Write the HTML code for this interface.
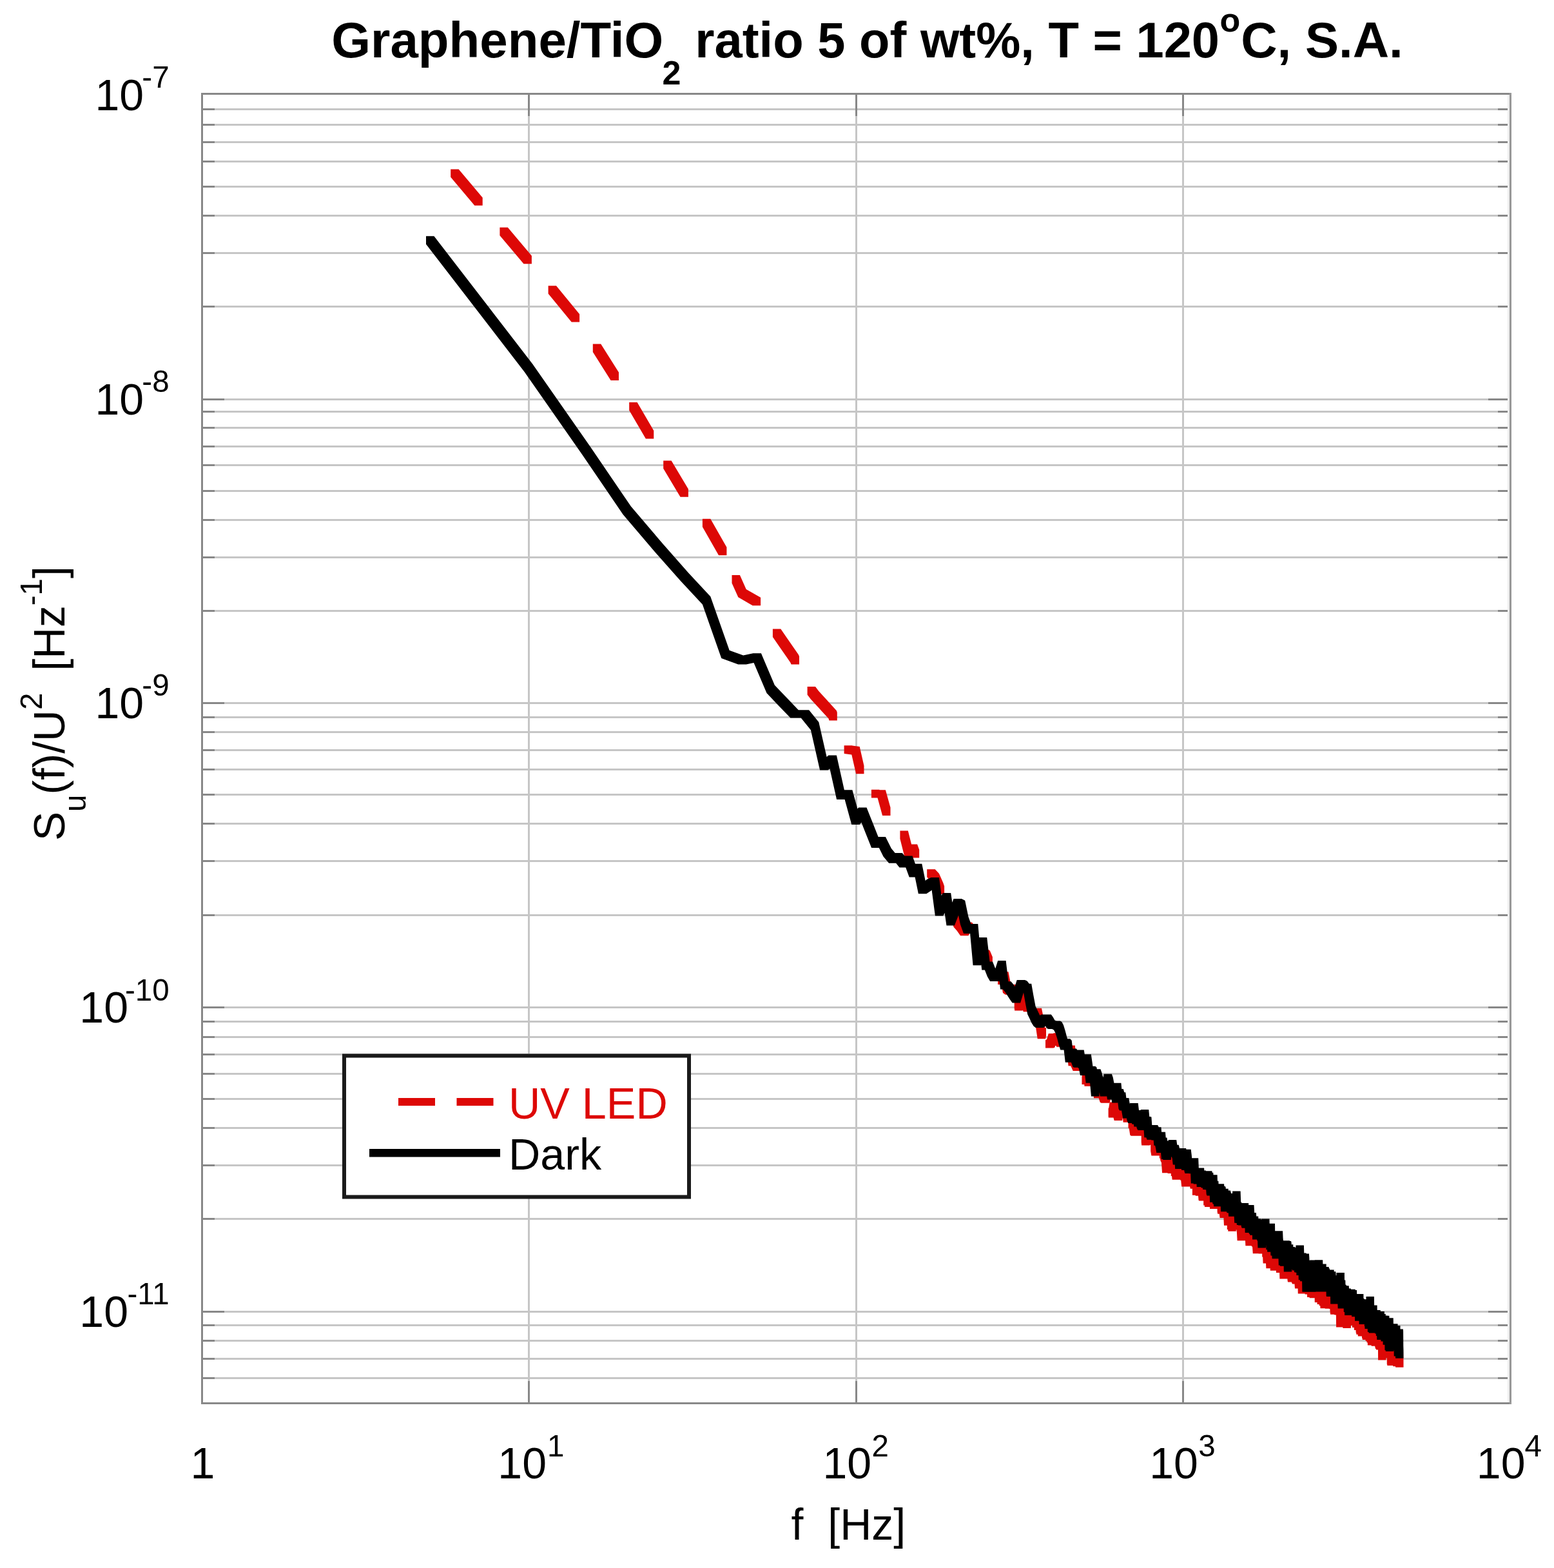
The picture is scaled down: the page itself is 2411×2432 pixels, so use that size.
<!DOCTYPE html>
<html lang="en"><head><meta charset="utf-8"><title>Graphene/TiO2 noise spectrum</title>
<style>html,body{margin:0;padding:0;background:#fff}svg{display:block}</style></head>
<body>
<svg width="2411" height="2432" viewBox="0 0 2411 2432">
<rect width="2411" height="2432" fill="#fff"/>
<g shape-rendering="crispEdges">
<rect x="315" y="168" width="2027" height="3" fill="#c6c6c6"/>
<rect x="315" y="192" width="2027" height="3" fill="#c6c6c6"/>
<rect x="315" y="219" width="2027" height="3" fill="#c6c6c6"/>
<rect x="315" y="249" width="2027" height="3" fill="#c6c6c6"/>
<rect x="315" y="288" width="2027" height="3" fill="#c6c6c6"/>
<rect x="315" y="333" width="2027" height="3" fill="#c6c6c6"/>
<rect x="315" y="391" width="2027" height="3" fill="#c6c6c6"/>
<rect x="315" y="474" width="2027" height="3" fill="#c6c6c6"/>
<rect x="315" y="618" width="2027" height="3" fill="#c6c6c6"/>
<rect x="315" y="637" width="2027" height="3" fill="#c6c6c6"/>
<rect x="315" y="662" width="2027" height="3" fill="#c6c6c6"/>
<rect x="315" y="691" width="2027" height="3" fill="#c6c6c6"/>
<rect x="315" y="720" width="2027" height="3" fill="#c6c6c6"/>
<rect x="315" y="760" width="2027" height="3" fill="#c6c6c6"/>
<rect x="315" y="805" width="2027" height="3" fill="#c6c6c6"/>
<rect x="315" y="863" width="2027" height="3" fill="#c6c6c6"/>
<rect x="315" y="946" width="2027" height="3" fill="#c6c6c6"/>
<rect x="315" y="1089" width="2027" height="3" fill="#c6c6c6"/>
<rect x="315" y="1111" width="2027" height="3" fill="#c6c6c6"/>
<rect x="315" y="1134" width="2027" height="3" fill="#c6c6c6"/>
<rect x="315" y="1162" width="2027" height="3" fill="#c6c6c6"/>
<rect x="315" y="1192" width="2027" height="3" fill="#c6c6c6"/>
<rect x="315" y="1231" width="2027" height="3" fill="#c6c6c6"/>
<rect x="315" y="1276" width="2027" height="3" fill="#c6c6c6"/>
<rect x="315" y="1334" width="2027" height="3" fill="#c6c6c6"/>
<rect x="315" y="1418" width="2027" height="3" fill="#c6c6c6"/>
<rect x="315" y="1561" width="2027" height="3" fill="#c6c6c6"/>
<rect x="315" y="1583" width="2027" height="3" fill="#c6c6c6"/>
<rect x="315" y="1607" width="2027" height="3" fill="#c6c6c6"/>
<rect x="315" y="1634" width="2027" height="3" fill="#c6c6c6"/>
<rect x="315" y="1664" width="2027" height="3" fill="#c6c6c6"/>
<rect x="315" y="1703" width="2027" height="3" fill="#c6c6c6"/>
<rect x="315" y="1748" width="2027" height="3" fill="#c6c6c6"/>
<rect x="315" y="1806" width="2027" height="3" fill="#c6c6c6"/>
<rect x="315" y="1889" width="2027" height="3" fill="#c6c6c6"/>
<rect x="315" y="2033" width="2027" height="3" fill="#c6c6c6"/>
<rect x="315" y="2054" width="2027" height="3" fill="#c6c6c6"/>
<rect x="315" y="2078" width="2027" height="3" fill="#c6c6c6"/>
<rect x="315" y="2106" width="2027" height="3" fill="#c6c6c6"/>
<rect x="315" y="2136" width="2027" height="3" fill="#c6c6c6"/>
<rect x="819" y="147" width="3" height="2028" fill="#c6c6c6"/>
<rect x="1327" y="147" width="3" height="2028" fill="#c6c6c6"/>
<rect x="1834" y="147" width="3" height="2028" fill="#c6c6c6"/>
<rect x="312" y="168" width="21" height="3" fill="#888888"/>
<rect x="2324" y="168" width="18" height="3" fill="#888888"/>
<rect x="312" y="192" width="21" height="3" fill="#888888"/>
<rect x="2324" y="192" width="18" height="3" fill="#888888"/>
<rect x="312" y="219" width="21" height="3" fill="#888888"/>
<rect x="2324" y="219" width="18" height="3" fill="#888888"/>
<rect x="312" y="249" width="21" height="3" fill="#888888"/>
<rect x="2324" y="249" width="18" height="3" fill="#888888"/>
<rect x="312" y="288" width="21" height="3" fill="#888888"/>
<rect x="2324" y="288" width="18" height="3" fill="#888888"/>
<rect x="312" y="333" width="21" height="3" fill="#888888"/>
<rect x="2324" y="333" width="18" height="3" fill="#888888"/>
<rect x="312" y="391" width="21" height="3" fill="#888888"/>
<rect x="2324" y="391" width="18" height="3" fill="#888888"/>
<rect x="312" y="474" width="21" height="3" fill="#888888"/>
<rect x="2324" y="474" width="18" height="3" fill="#888888"/>
<rect x="312" y="618" width="36" height="3" fill="#888888"/>
<rect x="2309" y="618" width="33" height="3" fill="#888888"/>
<rect x="312" y="637" width="21" height="3" fill="#888888"/>
<rect x="2324" y="637" width="18" height="3" fill="#888888"/>
<rect x="312" y="662" width="21" height="3" fill="#888888"/>
<rect x="2324" y="662" width="18" height="3" fill="#888888"/>
<rect x="312" y="691" width="21" height="3" fill="#888888"/>
<rect x="2324" y="691" width="18" height="3" fill="#888888"/>
<rect x="312" y="720" width="21" height="3" fill="#888888"/>
<rect x="2324" y="720" width="18" height="3" fill="#888888"/>
<rect x="312" y="760" width="21" height="3" fill="#888888"/>
<rect x="2324" y="760" width="18" height="3" fill="#888888"/>
<rect x="312" y="805" width="21" height="3" fill="#888888"/>
<rect x="2324" y="805" width="18" height="3" fill="#888888"/>
<rect x="312" y="863" width="21" height="3" fill="#888888"/>
<rect x="2324" y="863" width="18" height="3" fill="#888888"/>
<rect x="312" y="946" width="21" height="3" fill="#888888"/>
<rect x="2324" y="946" width="18" height="3" fill="#888888"/>
<rect x="312" y="1089" width="36" height="3" fill="#888888"/>
<rect x="2309" y="1089" width="33" height="3" fill="#888888"/>
<rect x="312" y="1111" width="21" height="3" fill="#888888"/>
<rect x="2324" y="1111" width="18" height="3" fill="#888888"/>
<rect x="312" y="1134" width="21" height="3" fill="#888888"/>
<rect x="2324" y="1134" width="18" height="3" fill="#888888"/>
<rect x="312" y="1162" width="21" height="3" fill="#888888"/>
<rect x="2324" y="1162" width="18" height="3" fill="#888888"/>
<rect x="312" y="1192" width="21" height="3" fill="#888888"/>
<rect x="2324" y="1192" width="18" height="3" fill="#888888"/>
<rect x="312" y="1231" width="21" height="3" fill="#888888"/>
<rect x="2324" y="1231" width="18" height="3" fill="#888888"/>
<rect x="312" y="1276" width="21" height="3" fill="#888888"/>
<rect x="2324" y="1276" width="18" height="3" fill="#888888"/>
<rect x="312" y="1334" width="21" height="3" fill="#888888"/>
<rect x="2324" y="1334" width="18" height="3" fill="#888888"/>
<rect x="312" y="1418" width="21" height="3" fill="#888888"/>
<rect x="2324" y="1418" width="18" height="3" fill="#888888"/>
<rect x="312" y="1561" width="36" height="3" fill="#888888"/>
<rect x="2309" y="1561" width="33" height="3" fill="#888888"/>
<rect x="312" y="1583" width="21" height="3" fill="#888888"/>
<rect x="2324" y="1583" width="18" height="3" fill="#888888"/>
<rect x="312" y="1607" width="21" height="3" fill="#888888"/>
<rect x="2324" y="1607" width="18" height="3" fill="#888888"/>
<rect x="312" y="1634" width="21" height="3" fill="#888888"/>
<rect x="2324" y="1634" width="18" height="3" fill="#888888"/>
<rect x="312" y="1664" width="21" height="3" fill="#888888"/>
<rect x="2324" y="1664" width="18" height="3" fill="#888888"/>
<rect x="312" y="1703" width="21" height="3" fill="#888888"/>
<rect x="2324" y="1703" width="18" height="3" fill="#888888"/>
<rect x="312" y="1748" width="21" height="3" fill="#888888"/>
<rect x="2324" y="1748" width="18" height="3" fill="#888888"/>
<rect x="312" y="1806" width="21" height="3" fill="#888888"/>
<rect x="2324" y="1806" width="18" height="3" fill="#888888"/>
<rect x="312" y="1889" width="21" height="3" fill="#888888"/>
<rect x="2324" y="1889" width="18" height="3" fill="#888888"/>
<rect x="312" y="2033" width="36" height="3" fill="#888888"/>
<rect x="2309" y="2033" width="33" height="3" fill="#888888"/>
<rect x="312" y="2054" width="21" height="3" fill="#888888"/>
<rect x="2324" y="2054" width="18" height="3" fill="#888888"/>
<rect x="312" y="2078" width="21" height="3" fill="#888888"/>
<rect x="2324" y="2078" width="18" height="3" fill="#888888"/>
<rect x="312" y="2106" width="21" height="3" fill="#888888"/>
<rect x="2324" y="2106" width="18" height="3" fill="#888888"/>
<rect x="312" y="2136" width="21" height="3" fill="#888888"/>
<rect x="2324" y="2136" width="18" height="3" fill="#888888"/>
<rect x="819" y="2142" width="3" height="36" fill="#888888"/>
<rect x="819" y="144" width="3" height="36" fill="#888888"/>
<rect x="1327" y="2142" width="3" height="36" fill="#888888"/>
<rect x="1327" y="144" width="3" height="36" fill="#888888"/>
<rect x="1834" y="2142" width="3" height="36" fill="#888888"/>
<rect x="1834" y="144" width="3" height="36" fill="#888888"/>
<rect x="312" y="144" width="2033" height="3" fill="#888888"/>
<rect x="312" y="2175" width="2033" height="3" fill="#888888"/>
<rect x="312" y="144" width="3" height="2034" fill="#888888"/>
<rect x="2339" y="147" width="3" height="2028" fill="#eee"/>
<rect x="2342" y="144" width="3" height="2034" fill="#999"/>
</g>
<path d="M748.7,318.8 748.7,306.4 711.6,262.4 699.2,262.4 699.2,274.8 736.3,318.8ZM824.9,409.2 824.9,396.8 787.8,352.8 775.4,352.8 775.4,365.2 812.5,409.2ZM899.1,499.6 899.1,487.2 863.0,443.2 850.6,443.2 850.6,455.6 886.7,499.6ZM960.0,590.0 960.0,577.6 932.2,533.6 919.8,533.6 919.8,546.0 947.6,590.0ZM1014.3,680.4 1014.3,668.0 988.6,624.0 976.2,624.0 976.2,636.4 1001.9,680.4ZM1067.9,770.8 1067.9,758.4 1041.6,714.4 1029.2,714.4 1029.2,726.8 1055.5,770.8ZM1127.4,861.2 1127.4,848.8 1102.3,804.8 1089.9,804.8 1089.9,817.2 1115.0,861.2ZM1180.1,939.2 1180.1,926.8 1157.7,913.9 1147.9,892.1 1135.5,892.1 1135.5,904.5 1145.3,926.3 1167.7,939.2ZM1211.3,975.5 1198.9,975.5 1198.9,987.9 1208.7,1002.2 1226.4,1027.7 1227.6,1030.5 1240.0,1030.5 1240.0,1018.1 1238.8,1015.3 1221.1,989.8ZM1298.8,1105.0 1297.9,1102.2 1284.5,1087.5 1270.3,1072.0 1265.0,1065.1 1252.6,1065.1 1252.6,1077.5 1257.9,1084.4 1272.1,1099.9 1285.5,1114.6 1286.4,1117.4 1298.8,1117.4ZM1328.1,1200.2 1340.5,1200.2 1340.5,1187.8 1333.7,1158.1 1322.4,1156.6 1322.0,1156.2 1309.6,1156.2 1309.6,1168.6 1310.0,1169.0 1321.3,1170.5ZM1373.9,1225.2 1364.5,1225.2 1364.3,1224.7 1351.9,1224.7 1351.9,1237.1 1352.1,1237.6 1361.5,1237.6 1369.1,1264.9 1381.5,1264.9 1381.5,1252.5ZM1408.8,1288.6 1396.4,1288.6 1396.4,1301.0 1403.2,1328.0 1412.9,1328.0 1413.8,1330.4 1426.2,1330.4 1426.2,1318.0 1423.1,1309.6 1414.1,1309.6ZM1465.1,1374.6 1463.3,1369.3 1457.0,1354.9 1450.7,1348.2 1450.6,1348.2 1438.2,1348.2 1438.2,1360.6 1438.3,1360.6 1444.6,1367.3 1450.9,1381.7 1452.7,1387.0 1465.1,1387.0ZM1509.4,1444.4 1509.4,1432.0 1507.5,1430.4 1496.3,1430.4 1491.9,1425.3 1488.1,1411.5 1475.7,1411.5 1475.7,1423.9 1479.5,1437.7 1484.8,1443.8 1490.0,1451.3 1502.4,1451.3 1506.5,1444.4ZM1539.9,1496.7 1539.9,1484.3 1535.7,1474.2 1531.2,1471.8 1518.8,1471.8 1518.6,1472.4 1511.2,1472.4 1511.2,1484.8 1514.3,1496.5 1526.7,1496.5 1527.0,1495.6 1527.5,1496.7ZM1559.7,1542.8 1572.1,1542.8 1573.7,1541.3 1577.0,1541.3 1577.0,1528.9 1575.8,1526.9 1568.3,1526.9 1564.5,1507.2 1552.1,1507.2 1548.2,1514.7 1548.1,1514.7 1548.1,1527.1 1548.2,1527.1 1553.6,1527.1 1556.0,1539.9ZM1574.2,1567.6 1586.6,1567.6 1586.9,1566.5 1587.8,1569.3 1600.2,1569.3 1600.5,1568.9 1600.5,1556.5 1600.0,1556.5 1596.8,1546.2 1593.5,1540.1 1581.1,1540.1 1577.7,1542.2 1575.3,1551.1 1573.7,1551.1 1573.7,1563.5ZM1609.7,1611.2 1622.1,1611.2 1623.0,1606.3 1623.0,1593.9 1621.3,1593.9 1619.1,1578.9 1616.0,1563.8 1603.6,1563.8 1603.5,1564.2 1603.5,1576.6 1603.7,1576.6 1606.7,1591.3ZM1634.4,1625.6 1636.5,1624.5 1637.2,1622.0 1638.6,1622.0 1639.1,1623.7 1651.5,1623.7 1651.5,1611.3 1650.0,1606.2 1647.4,1602.2 1635.0,1602.2 1633.9,1603.1 1626.8,1603.1 1624.1,1612.1 1622.0,1613.2 1622.0,1625.6ZM1679.8,1645.2 1679.4,1644.5 1675.3,1644.5 1674.8,1643.4 1672.4,1638.5 1669.8,1638.5 1667.8,1621.6 1655.4,1621.6 1655.4,1634.0 1657.6,1653.2 1661.1,1653.2 1662.4,1655.8 1664.7,1660.9 1677.1,1660.9 1679.0,1657.6 1679.8,1657.6ZM1678.5,1682.1 1682.2,1682.1 1682.5,1684.7 1694.9,1684.7 1697.1,1679.3 1697.8,1678.1 1701.1,1678.1 1701.1,1665.7 1699.2,1663.7 1693.7,1663.7 1692.8,1657.9 1680.4,1657.9 1678.5,1669.7ZM1704.9,1704.0 1706.8,1709.7 1708.7,1710.7 1721.1,1710.7 1721.6,1709.6 1720.2,1718.8 1719.6,1718.8 1719.6,1731.2 1719.9,1733.4 1727.5,1733.4 1728.7,1738.0 1741.1,1738.0 1741.8,1733.9 1742.2,1735.6 1742.6,1740.7 1750.5,1740.7 1750.5,1749.3 1751.8,1750.6 1753.3,1760.4 1754.9,1761.7 1759.4,1761.7 1759.4,1761.8 1770.7,1761.8 1770.7,1771.6 1771.2,1776.5 1783.6,1776.5 1784.6,1775.8 1785.2,1775.8 1785.2,1785.5 1786.4,1792.4 1798.8,1792.4 1798.8,1792.4 1798.8,1796.5 1799.8,1796.5 1800.6,1800.7 1801.9,1802.9 1803.1,1819.3 1811.6,1819.3 1811.6,1820.1 1816.8,1820.1 1816.8,1823.9 1818.0,1823.9 1818.7,1829.7 1830.9,1829.7 1831.0,1830.5 1832.2,1830.5 1833.2,1840.4 1845.6,1840.4 1845.6,1840.3 1846.0,1840.3 1846.8,1843.7 1849.9,1843.7 1849.9,1853.8 1854.7,1853.8 1854.7,1854.7 1859.0,1854.7 1859.6,1861.8 1860.6,1862.5 1867.2,1862.5 1867.2,1869.6 1868.8,1869.6 1869.0,1872.0 1876.9,1872.0 1877.1,1875.1 1888.6,1875.1 1888.6,1879.6 1889.2,1882.8 1891.8,1882.8 1892.5,1889.1 1898.5,1889.1 1898.5,1891.2 1899.0,1900.7 1903.8,1900.7 1903.8,1906.9 1905.2,1906.9 1905.3,1909.8 1917.7,1909.8 1917.9,1907.3 1918.3,1907.3 1918.9,1911.3 1919.6,1924.2 1932.0,1924.2 1932.4,1932.2 1941.7,1932.2 1941.7,1933.0 1942.4,1933.0 1942.5,1933.5 1943.1,1934.3 1943.8,1944.2 1952.4,1944.2 1952.8,1944.6 1958.2,1944.6 1958.2,1949.4 1959.2,1949.4 1959.6,1959.5 1964.0,1959.5 1964.4,1967.2 1970.7,1967.2 1970.8,1970.7 1979.9,1970.7 1979.9,1973.6 1979.9,1974.1 1985.1,1974.1 1985.4,1983.4 1997.4,1983.4 1997.5,1985.2 1998.0,1988.5 2004.0,1988.5 2004.1,1990.2 2004.7,1990.2 2005.1,1991.6 2008.5,1991.6 2008.5,1991.7 2009.0,1998.5 2013.6,1998.5 2013.8,2006.4 2024.5,2006.4 2024.5,2007.5 2027.9,2007.5 2028.1,2012.1 2031.6,2012.1 2031.6,2013.2 2039.7,2013.2 2039.7,2016.2 2039.8,2020.1 2043.5,2020.1 2043.6,2023.1 2046.6,2023.1 2046.9,2025.2 2048.3,2025.2 2048.5,2029.2 2055.7,2029.2 2055.7,2029.7 2061.9,2029.7 2061.9,2030.1 2063.3,2030.1 2063.5,2032.7 2063.8,2036.4 2064.2,2038.8 2069.9,2038.8 2069.9,2039.3 2070.9,2039.3 2070.9,2039.4 2072.9,2039.4 2073.1,2058.4 2083.4,2058.4 2083.4,2060.1 2095.8,2060.1 2096.0,2055.7 2097.9,2055.7 2098.0,2059.0 2100.8,2059.0 2100.8,2060.7 2101.0,2062.9 2103.5,2062.9 2103.7,2067.3 2104.2,2067.3 2104.3,2069.8 2106.7,2069.8 2106.8,2072.4 2112.9,2072.4 2113.0,2075.0 2113.3,2075.8 2113.7,2075.8 2113.8,2078.0 2118.6,2078.0 2118.6,2080.1 2120.4,2080.1 2120.4,2082.3 2121.8,2082.3 2121.9,2086.4 2127.6,2086.4 2127.6,2087.8 2133.2,2087.8 2133.2,2089.4 2133.7,2089.4 2133.8,2092.0 2135.0,2092.0 2135.0,2093.6 2138.0,2093.6 2138.1,2109.6 2150.5,2109.6 2150.5,2106.5 2151.4,2106.5 2151.4,2106.0 2151.7,2106.0 2151.8,2116.3 2152.3,2116.3 2152.3,2118.1 2161.2,2118.1 2161.3,2119.2 2165.0,2119.2 2165.1,2120.7 2177.5,2120.7 2177.5,2108.3 2177.3,2106.0 2177.1,2096.6 2176.0,2096.6 2176.0,2088.3 2175.5,2088.3 2175.4,2084.5 2169.1,2084.5 2169.1,2082.9 2169.0,2077.6 2166.6,2077.6 2166.5,2071.8 2162.2,2071.8 2162.2,2070.9 2160.1,2070.9 2160.1,2067.6 2160.1,2067.6 2150.1,2067.6 2150.0,2065.9 2148.2,2065.9 2148.1,2061.8 2142.9,2061.8 2142.9,2060.8 2138.7,2060.8 2138.6,2054.0 2132.6,2054.0 2132.5,2047.1 2129.8,2047.1 2129.8,2045.3 2124.5,2045.3 2124.4,2042.0 2119.5,2042.0 2119.5,2041.9 2118.6,2041.9 2118.6,2041.3 2113.1,2041.3 2112.9,2030.0 2106.5,2030.0 2106.3,2022.0 2093.9,2022.0 2093.9,2022.9 2093.5,2022.9 2093.4,2020.0 2091.1,2020.0 2090.9,2010.8 2085.2,2010.8 2085.2,2009.0 2080.3,2009.0 2080.0,2006.6 2073.3,2006.6 2073.3,2003.1 2073.2,2000.6 2072.5,2000.6 2072.4,1996.2 2065.4,1996.2 2065.4,1996.0 2055.4,1996.0 2055.2,1992.0 2054.7,1989.5 2053.2,1989.5 2053.2,1985.6 2053.1,1978.5 2040.7,1978.5 2040.7,1979.2 2037.9,1979.2 2037.8,1977.0 2033.5,1977.0 2033.2,1968.7 2020.8,1968.7 2020.8,1970.2 2020.0,1970.2 2019.9,1969.9 2019.4,1969.7 2015.7,1969.7 2015.5,1969.0 2015.0,1961.6 2014.5,1960.8 2009.5,1960.8 2009.4,1958.3 2004.9,1958.3 2004.7,1952.8 2001.2,1952.8 2001.2,1952.8 2000.9,1952.8 2000.5,1938.8 1989.0,1938.8 1989.0,1936.6 1978.0,1936.6 1978.0,1936.4 1972.8,1936.4 1972.8,1934.4 1972.6,1932.1 1971.4,1932.1 1971.4,1931.5 1966.4,1931.5 1966.4,1930.6 1965.8,1915.7 1960.8,1915.7 1960.8,1907.9 1960.7,1906.2 1951.6,1906.2 1951.6,1906.0 1949.1,1906.0 1948.9,1902.0 1938.6,1902.0 1938.5,1900.8 1937.8,1899.4 1937.1,1897.9 1935.2,1897.9 1934.9,1893.9 1930.6,1893.9 1930.6,1893.6 1929.8,1886.9 1924.5,1886.9 1923.9,1869.8 1911.5,1869.8 1911.3,1870.3 1907.1,1870.3 1907.1,1866.0 1903.5,1866.0 1903.2,1864.1 1893.2,1864.1 1893.2,1854.0 1891.6,1854.0 1891.3,1851.1 1888.8,1851.1 1888.8,1850.2 1884.9,1850.2 1884.9,1846.6 1875.2,1846.6 1875.2,1844.7 1874.9,1841.3 1873.9,1834.0 1866.6,1834.0 1866.2,1826.6 1859.5,1826.6 1859.5,1824.8 1857.7,1824.8 1857.1,1821.8 1856.1,1820.2 1854.4,1820.2 1854.0,1819.4 1848.5,1819.4 1848.5,1811.3 1847.7,1809.3 1836.8,1809.3 1836.8,1805.5 1836.7,1805.1 1835.6,1804.0 1834.5,1802.5 1833.3,1802.2 1826.2,1802.2 1826.2,1798.7 1825.2,1790.2 1814.1,1790.2 1813.0,1788.3 1811.8,1781.5 1802.0,1781.5 1802.4,1775.1 1803.2,1775.1 1803.2,1762.7 1802.8,1756.7 1790.4,1756.7 1790.1,1761.6 1789.2,1748.8 1776.8,1748.8 1776.8,1748.9 1776.8,1747.5 1776.1,1747.5 1774.8,1745.2 1773.3,1744.8 1765.2,1744.8 1764.2,1738.2 1762.9,1736.9 1755.0,1736.9 1755.0,1728.3 1754.6,1723.2 1752.9,1715.7 1750.9,1715.7 1749.6,1706.7 1737.2,1706.7 1736.5,1714.9 1735.8,1712.6 1734.1,1709.6 1721.7,1709.6 1722.6,1707.4 1722.6,1695.0 1718.5,1695.0 1717.3,1691.6 1715.4,1687.8 1713.4,1684.6 1708.8,1684.6 1708.7,1683.4 1696.3,1683.4 1696.3,1695.8 1697.0,1703.2 1704.5,1703.2Z" fill="#dd0806"/>
<path d="M1089.9,937.6 1119.3,1021.1 1145.3,1030.6 1157.7,1030.6 1169.5,1028.1 1189.5,1075.1 1208.7,1095.2 1226.4,1113.6 1238.8,1113.6 1242.7,1113.6 1257.9,1132.3 1272.1,1194.6 1284.5,1194.6 1287.4,1192.3 1298.1,1240.1 1310.5,1240.1 1310.6,1240.1 1321.3,1279.1 1333.7,1279.1 1336.4,1275.6 1342.3,1290.5 1352.1,1315.0 1363.8,1315.0 1370.5,1328.5 1379.1,1338.8 1390.1,1338.8 1395.5,1345.5 1405.2,1345.5 1410.7,1360.5 1419.6,1360.5 1424.9,1386.2 1437.3,1386.2 1444.1,1381.8 1445.6,1380.5 1450.9,1420.4 1463.3,1420.4 1465.6,1416.0 1468.5,1435.4 1480.9,1435.4 1486.5,1421.0 1487.0,1419.6 1490.0,1434.1 1495.1,1448.0 1505.1,1448.0 1509.6,1497.2 1522.0,1497.2 1522.3,1496.1 1523.3,1504.5 1527.9,1504.5 1531.9,1514.7 1536.1,1522.0 1540.2,1522.0 1548.5,1522.0 1550.6,1522.0 1552.1,1534.6 1556.0,1534.6 1559.7,1538.9 1563.4,1544.8 1567.1,1550.6 1570.7,1555.4 1583.1,1555.4 1586.6,1543.9 1588.0,1539.4 1591.0,1556.5 1594.2,1573.2 1597.4,1579.8 1600.5,1586.5 1603.6,1591.5 1606.7,1593.9 1619.1,1593.9 1622.1,1591.5 1622.1,1591.4 1624.1,1594.9 1626.8,1595.9 1629.6,1595.9 1632.3,1595.9 1635.0,1597.4 1637.6,1602.4 1640.2,1610.8 1642.8,1620.7 1645.3,1628.5 1650.6,1628.5 1652.8,1647.7 1661.9,1647.7 1662.4,1649.0 1664.7,1655.1 1667.0,1655.8 1672.2,1655.8 1673.8,1657.2 1676.0,1668.0 1683.3,1668.0 1684.7,1679.7 1691.1,1679.7 1693.0,1700.5 1705.4,1700.5 1705.8,1694.2 1706.8,1700.5 1717.3,1700.5 1718.0,1705.4 1721.6,1705.4 1721.7,1705.6 1724.5,1705.6 1725.2,1710.6 1734.4,1710.6 1735.5,1720.1 1737.2,1722.4 1740.1,1722.4 1740.5,1725.3 1742.2,1734.5 1748.0,1734.5 1748.6,1738.1 1750.2,1742.0 1756.0,1742.0 1756.4,1743.7 1759.0,1743.7 1759.4,1747.4 1763.2,1747.4 1763.9,1750.2 1765.4,1753.0 1774.6,1753.0 1775.4,1764.3 1778.3,1764.3 1779.6,1767.8 1786.3,1767.8 1786.4,1768.4 1789.7,1768.4 1790.4,1776.7 1792.1,1776.7 1793.0,1780.6 1794.3,1788.0 1801.1,1788.0 1801.9,1797.9 1804.3,1797.9 1804.4,1799.0 1816.8,1799.0 1817.2,1794.2 1817.9,1794.2 1818.7,1797.0 1819.8,1806.5 1820.9,1806.6 1822.8,1806.6 1823.2,1813.1 1832.9,1813.1 1833.2,1815.1 1837.3,1815.1 1837.4,1816.6 1838.5,1820.1 1844.7,1820.1 1844.7,1820.3 1847.2,1820.3 1847.8,1835.4 1851.6,1835.4 1851.8,1836.5 1856.5,1836.5 1856.7,1841.0 1863.2,1841.0 1863.4,1842.1 1864.3,1842.6 1866.0,1842.6 1866.2,1844.9 1869.0,1844.9 1869.0,1845.2 1871.2,1845.2 1871.7,1852.3 1872.6,1854.4 1876.8,1854.4 1877.1,1864.7 1881.1,1864.7 1881.5,1867.5 1882.9,1867.5 1883.2,1871.3 1893.8,1871.3 1894.1,1879.2 1903.0,1879.2 1903.7,1881.3 1905.9,1881.3 1906.1,1886.7 1907.6,1886.7 1907.6,1886.8 1914.7,1886.8 1915.2,1896.7 1917.4,1896.7 1917.4,1897.0 1918.7,1897.0 1918.9,1899.9 1921.0,1899.9 1921.1,1900.6 1925.6,1900.6 1926.1,1903.3 1926.8,1904.7 1931.5,1904.7 1931.7,1912.1 1937.7,1912.1 1937.8,1913.7 1939.1,1913.7 1939.2,1915.8 1942.9,1915.8 1943.1,1922.5 1950.2,1922.5 1950.2,1924.3 1951.1,1924.3 1951.5,1935.5 1963.9,1935.5 1964.1,1930.2 1964.1,1930.2 1964.4,1938.3 1966.1,1938.3 1966.2,1941.7 1971.2,1941.7 1971.4,1947.2 1972.0,1947.6 1973.4,1947.6 1973.7,1952.2 1983.5,1952.2 1983.8,1962.6 1985.9,1962.6 1985.9,1963.8 1991.7,1963.8 1991.8,1972.4 2004.2,1972.4 2004.3,1968.9 2005.0,1968.9 2005.1,1970.4 2007.9,1970.4 2008.0,1973.2 2009.5,1973.2 2009.5,1973.7 2011.3,1973.7 2011.4,1978.1 2014.6,1978.1 2014.8,1985.2 2017.1,1985.2 2017.1,1987.3 2020.1,1987.3 2020.4,2003.8 2032.8,2003.8 2032.8,2003.8 2041.4,2003.8 2041.4,2003.1 2041.5,2003.6 2053.9,2003.6 2053.9,2003.4 2057.6,2003.4 2057.7,2009.9 2058.1,2011.1 2064.0,2011.1 2064.2,2022.5 2075.4,2022.5 2075.7,2029.6 2084.7,2029.6 2084.8,2034.9 2086.1,2034.9 2086.2,2039.9 2097.1,2039.9 2097.2,2042.2 2102.0,2042.2 2102.1,2048.7 2108.5,2048.7 2108.7,2054.0 2116.8,2054.0 2116.9,2056.9 2117.4,2056.9 2117.5,2060.9 2121.8,2060.9 2121.9,2065.9 2123.6,2065.9 2123.6,2067.5 2133.2,2067.5 2133.2,2068.4 2134.8,2068.4 2134.9,2072.1 2136.2,2072.1 2136.3,2078.1 2142.4,2078.1 2142.5,2080.5 2145.6,2080.5 2145.6,2085.8 2148.4,2085.8 2148.5,2094.3 2149.8,2094.3 2149.8,2096.0 2162.2,2096.0 2162.2,2094.3 2162.6,2094.3 2162.7,2103.4 2165.0,2103.4 2165.1,2106.7 2177.5,2106.7 2177.5,2094.3 2177.3,2087.7 2177.1,2064.3 2176.8,2061.5 2172.5,2061.5 2172.5,2056.1 2168.6,2056.1 2168.5,2053.3 2161.9,2053.3 2161.7,2044.2 2155.5,2044.2 2155.4,2040.8 2152.5,2040.8 2152.5,2040.6 2149.8,2040.6 2149.8,2038.0 2147.9,2038.0 2147.8,2033.9 2141.8,2033.9 2141.7,2031.9 2136.7,2031.9 2136.6,2024.5 2132.1,2024.5 2131.9,2011.0 2119.5,2011.0 2119.5,2015.3 2117.4,2015.3 2117.3,2014.9 2116.4,2014.9 2116.4,2014.1 2115.5,2014.1 2115.4,2006.9 2105.2,2006.9 2105.0,2001.1 2102.7,2001.1 2102.7,1999.7 2096.9,1999.7 2096.9,1999.7 2095.9,1999.7 2095.8,1998.4 2093.0,1998.4 2092.7,1994.3 2088.8,1994.3 2088.8,1992.8 2087.5,1992.8 2087.3,1985.5 2086.0,1985.5 2085.9,1973.9 2073.5,1973.9 2073.4,1978.3 2072.7,1978.3 2072.4,1972.2 2069.7,1972.2 2069.7,1969.4 2063.0,1969.4 2063.0,1967.5 2061.9,1967.5 2061.7,1965.1 2057.7,1965.1 2057.7,1960.6 2052.4,1960.6 2052.2,1954.3 2039.8,1954.3 2039.8,1954.4 2032.5,1954.4 2032.5,1954.7 2031.5,1954.7 2031.4,1951.4 2030.9,1944.4 2026.7,1944.4 2026.7,1943.6 2023.3,1943.6 2023.3,1943.5 2022.9,1931.4 2010.5,1931.4 2010.4,1934.8 2008.9,1934.8 2008.9,1934.1 2006.4,1934.1 2006.3,1930.2 2003.7,1930.2 2003.7,1928.1 2003.1,1925.1 2001.1,1925.1 2001.0,1924.3 1991.1,1924.3 1990.6,1920.9 1990.1,1909.3 1978.2,1909.3 1978.0,1897.7 1969.7,1897.7 1969.5,1890.5 1957.1,1890.5 1957.1,1891.5 1956.3,1891.5 1956.2,1890.2 1952.4,1890.2 1952.2,1886.4 1949.2,1886.4 1948.9,1880.9 1946.2,1880.9 1946.2,1880.9 1945.5,1868.9 1937.2,1868.9 1937.1,1866.0 1926.3,1866.0 1926.1,1864.5 1925.2,1864.5 1924.6,1847.4 1912.2,1847.4 1912.0,1851.1 1910.1,1851.1 1909.8,1850.1 1909.0,1846.5 1905.8,1846.5 1905.7,1843.8 1901.8,1843.8 1901.6,1841.3 1900.7,1839.9 1899.5,1839.9 1899.0,1836.2 1890.6,1836.2 1890.4,1831.7 1888.9,1831.7 1888.6,1822.2 1882.6,1822.2 1882.3,1818.7 1880.6,1818.7 1880.5,1816.2 1871.1,1816.2 1871.0,1815.5 1868.4,1815.5 1868.1,1811.6 1859.8,1811.6 1859.2,1796.3 1849.2,1796.3 1848.8,1791.8 1847.7,1782.7 1840.5,1782.7 1840.1,1781.1 1830.1,1781.1 1829.9,1780.2 1828.7,1775.8 1826.3,1775.8 1825.2,1767.9 1812.8,1767.9 1812.7,1769.4 1811.2,1769.4 1810.5,1764.6 1808.7,1764.6 1808.0,1755.7 1802.1,1755.7 1801.5,1748.2 1797.6,1748.2 1797.5,1747.6 1796.1,1744.9 1787.3,1744.9 1786.4,1732.5 1785.0,1732.0 1783.3,1732.0 1782.2,1721.1 1769.8,1721.1 1769.7,1722.1 1767.0,1722.1 1765.7,1711.0 1753.3,1711.0 1752.8,1712.1 1751.3,1703.1 1747.4,1703.1 1746.3,1694.2 1744.3,1694.2 1742.8,1689.1 1740.3,1689.1 1739.4,1679.7 1728.4,1679.7 1726.8,1671.3 1724.9,1665.7 1712.5,1665.7 1711.5,1671.2 1711.4,1671.1 1709.4,1663.7 1707.4,1658.2 1701.9,1658.2 1701.3,1655.2 1699.2,1653.7 1695.4,1653.7 1694.9,1649.7 1692.8,1635.2 1682.8,1635.2 1681.7,1628.5 1671.3,1628.5 1670.0,1626.4 1664.2,1626.4 1662.7,1613.7 1660.3,1611.3 1656.2,1611.3 1655.2,1608.3 1652.6,1598.4 1650.0,1590.0 1647.4,1585.0 1644.7,1583.5 1642.0,1583.5 1639.2,1583.5 1636.5,1582.5 1633.7,1577.5 1630.8,1573.5 1627.9,1573.5 1618.4,1573.5 1615.5,1573.5 1613.5,1575.1 1612.9,1574.1 1609.8,1567.4 1606.6,1560.8 1603.4,1544.1 1600.2,1525.8 1596.8,1525.8 1593.5,1521.5 1590.1,1520.0 1577.7,1520.0 1574.5,1530.3 1572.1,1526.5 1568.4,1522.2 1564.5,1522.2 1560.6,1489.9 1548.2,1489.9 1544.3,1502.2 1540.0,1491.4 1535.6,1491.4 1531.2,1454.0 1519.2,1454.0 1517.3,1433.0 1506.5,1433.0 1502.4,1421.7 1497.2,1396.7 1491.9,1394.1 1479.5,1394.1 1477.4,1399.8 1475.2,1385.0 1462.8,1385.0 1460.7,1389.0 1457.0,1361.1 1444.6,1361.1 1438.3,1363.8 1435.7,1366.0 1430.3,1339.8 1420.0,1339.8 1415.6,1327.6 1403.5,1327.6 1399.8,1323.0 1388.7,1323.0 1382.9,1316.1 1373.9,1297.9 1362.6,1297.9 1354.7,1278.1 1344.5,1252.4 1332.1,1252.4 1330.4,1254.6 1322.4,1225.3 1310.0,1225.3 1309.9,1225.3 1297.9,1171.6 1285.5,1171.6 1282.6,1173.9 1270.3,1119.9 1255.1,1101.2 1242.7,1101.2 1238.8,1101.2 1221.1,1082.8 1201.9,1062.7 1180.9,1013.3 1168.5,1013.3 1153.2,1016.5 1131.7,1008.7 1102.3,925.2 1068.3,888.7 1028.2,843.3 979.0,785.6 915.6,692.5 826.2,564.5 673.4,366.3 661.0,366.3 661.0,378.7 813.8,576.9 903.2,704.9 966.6,798.0 1015.8,855.7 1055.9,901.1Z" fill="#000"/>
<rect x="534" y="1637.5" width="535" height="219" fill="#fff" stroke="#1a1a1a" stroke-width="6"/>
<rect x="618" y="1703" width="57" height="12" fill="#dd0806"/>
<rect x="708.5" y="1703" width="57" height="12" fill="#dd0806"/>
<rect x="573" y="1782" width="203" height="12.5" fill="#000"/>
<text x="789" y="1734.7" font-family="Liberation Sans, Arial, Helvetica, sans-serif" font-size="68.3" fill="#dd0806">UV LED</text>
<text x="789" y="1814.4" font-family="Liberation Sans, Arial, Helvetica, sans-serif" font-size="68.3" fill="#000">Dark</text>
<text x="223.2" y="170.5" font-family="Liberation Sans, Arial, Helvetica, sans-serif" font-size="68" text-anchor="end" fill="#000" xml:space="preserve">10</text>
<text x="262.6" y="136.0" font-family="Liberation Sans, Arial, Helvetica, sans-serif" font-size="47.5" text-anchor="end" fill="#000" xml:space="preserve">-7</text>
<text x="223.2" y="642.5" font-family="Liberation Sans, Arial, Helvetica, sans-serif" font-size="68" text-anchor="end" fill="#000" xml:space="preserve">10</text>
<text x="262.6" y="608.0" font-family="Liberation Sans, Arial, Helvetica, sans-serif" font-size="47.5" text-anchor="end" fill="#000" xml:space="preserve">-8</text>
<text x="223.2" y="1113.7" font-family="Liberation Sans, Arial, Helvetica, sans-serif" font-size="68" text-anchor="end" fill="#000" xml:space="preserve">10</text>
<text x="262.6" y="1079.2" font-family="Liberation Sans, Arial, Helvetica, sans-serif" font-size="47.5" text-anchor="end" fill="#000" xml:space="preserve">-9</text>
<text x="199.0" y="1586.0" font-family="Liberation Sans, Arial, Helvetica, sans-serif" font-size="68" text-anchor="end" fill="#000" xml:space="preserve">10</text>
<text x="262.6" y="1551.5" font-family="Liberation Sans, Arial, Helvetica, sans-serif" font-size="47.5" text-anchor="end" fill="#000" xml:space="preserve">-10</text>
<text x="199.0" y="2057.7" font-family="Liberation Sans, Arial, Helvetica, sans-serif" font-size="68" text-anchor="end" fill="#000" xml:space="preserve">10</text>
<text x="262.6" y="2023.1999999999998" font-family="Liberation Sans, Arial, Helvetica, sans-serif" font-size="47.5" text-anchor="end" fill="#000" xml:space="preserve">-11</text>
<text x="314.5" y="2293.4" font-family="Liberation Sans, Arial, Helvetica, sans-serif" font-size="68" text-anchor="middle" fill="#000" xml:space="preserve">1</text>
<text x="848.0" y="2293.4" font-family="Liberation Sans, Arial, Helvetica, sans-serif" font-size="68" text-anchor="end" fill="#000" xml:space="preserve">10</text>
<text x="849.0" y="2258.6" font-family="Liberation Sans, Arial, Helvetica, sans-serif" font-size="47.5" text-anchor="start" fill="#000" xml:space="preserve">1</text>
<text x="1352.2" y="2293.4" font-family="Liberation Sans, Arial, Helvetica, sans-serif" font-size="68" text-anchor="end" fill="#000" xml:space="preserve">10</text>
<text x="1352.4" y="2258.6" font-family="Liberation Sans, Arial, Helvetica, sans-serif" font-size="47.5" text-anchor="start" fill="#000" xml:space="preserve">2</text>
<text x="1858.8" y="2293.4" font-family="Liberation Sans, Arial, Helvetica, sans-serif" font-size="68" text-anchor="end" fill="#000" xml:space="preserve">10</text>
<text x="1859.2" y="2258.6" font-family="Liberation Sans, Arial, Helvetica, sans-serif" font-size="47.5" text-anchor="start" fill="#000" xml:space="preserve">3</text>
<text x="2366.5" y="2293.4" font-family="Liberation Sans, Arial, Helvetica, sans-serif" font-size="68" text-anchor="end" fill="#000" xml:space="preserve">10</text>
<text x="2365.5" y="2258.6" font-family="Liberation Sans, Arial, Helvetica, sans-serif" font-size="47.5" text-anchor="start" fill="#000" xml:space="preserve">4</text>
<text x="1227.6" y="2388" font-family="Liberation Sans, Arial, Helvetica, sans-serif" font-size="68" text-anchor="start" fill="#000" xml:space="preserve">f  [Hz]</text>
<text transform="translate(100,1304) rotate(-90)" font-family="Liberation Sans, Arial, Helvetica, sans-serif" font-size="67.6" fill="#000" xml:space="preserve">S<tspan font-size="47.5" dy="33">u</tspan><tspan dy="-33">(f)/U</tspan><tspan font-size="47.5" dy="-35">2</tspan><tspan dy="35" dx="-3.5">  [Hz</tspan><tspan font-size="47.5" dy="-35">-1</tspan><tspan dy="35">]</tspan></text>
<text y="89.3" font-family="Liberation Sans, Arial, Helvetica, sans-serif" font-size="78.1" font-weight="bold" fill="#000" xml:space="preserve"><tspan x="514.3">Graphene/TiO</tspan><tspan x="1027.5" font-size="52" dy="42">2</tspan><tspan x="1056.7" dy="-42" font-size="77.7"> ratio 5 of wt%, T = 120</tspan><tspan font-size="52" dy="-40" dx="0.5">o</tspan><tspan dy="40" dx="0.8">C, S.A.</tspan></text>
</svg>
</body></html>
